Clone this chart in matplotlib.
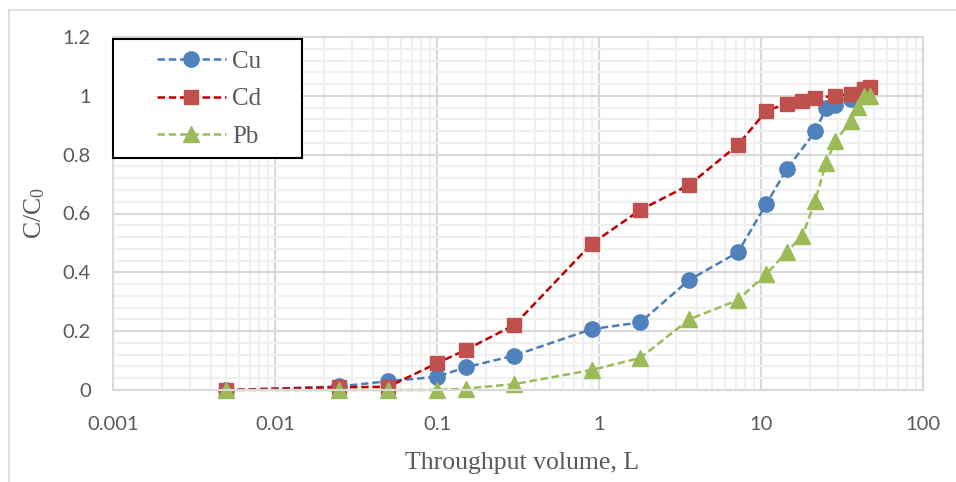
import matplotlib
matplotlib.use('Agg')
import matplotlib.pyplot as plt
from matplotlib.ticker import FixedLocator, FixedFormatter, MultipleLocator, LogLocator, NullFormatter
from matplotlib.patches import Rectangle

plt.rcParams['mathtext.fontset'] = 'custom'
plt.rcParams['mathtext.rm'] = 'Liberation Serif'
plt.rcParams['mathtext.it'] = 'Liberation Serif'

# throughput volume (L) and C/C0 for each metal
cu_x = [0.005, 0.025, 0.05, 0.1, 0.15, 0.3, 0.9, 1.8, 3.6, 7.2, 10.8, 14.4, 21.6, 25.2, 28.8, 36, 43.2]
cu_y = [0.0, 0.012, 0.03, 0.045, 0.077, 0.117, 0.207, 0.23, 0.374, 0.468, 0.633, 0.75, 0.879, 0.958, 0.97, 0.989, 1.0]

cd_x = [0.005, 0.025, 0.05, 0.1, 0.15, 0.3, 0.9, 1.8, 3.6, 7.2, 10.8, 14.4, 18, 21.6, 28.8, 36, 43.2, 46.8]
cd_y = [0.0, 0.009, 0.011, 0.091, 0.136, 0.221, 0.497, 0.612, 0.697, 0.833, 0.949, 0.973, 0.983, 0.993, 1.0, 1.007, 1.024, 1.031]

pb_x = [0.005, 0.025, 0.05, 0.1, 0.15, 0.3, 0.9, 1.8, 3.6, 7.2, 10.8, 14.4, 18, 21.6, 25.2, 28.8, 36, 39.6, 43.2, 46.8]
pb_y = [0.0, 0.0, 0.0, 0.0, 0.005, 0.02, 0.068, 0.109, 0.24, 0.306, 0.395, 0.469, 0.524, 0.643, 0.772, 0.847, 0.915, 0.963, 1.0, 1.0]

x_ticks = [0.001, 0.01, 0.1, 1, 10, 100]
x_labels = ['0.001', '0.01', '0.1', '1', '10', '100']
y_ticks = [0, 0.2, 0.4, 0.6, 0.8, 1.0, 1.2]
y_labels = ['0', '0.2', '0.4', '0.6', '0.8', '1', '1.2']

fig = plt.figure(figsize=(9.56, 4.82), dpi=100)
ax = fig.add_axes([113 / 956, 92 / 482, 810 / 956, 353 / 482])

# chart area border
fig.patches.append(Rectangle((9 / 956, -0.05), 1.0, 0.05 + 472 / 482, transform=fig.transFigure,
                             fill=False, edgecolor='#D9D9D9', linewidth=1.2))

ax.set_xscale('log')
ax.set_xlim(0.001, 100)
ax.set_ylim(0, 1.2)

style = dict(linestyle='--', dashes=(3, 1.5), linewidth=1.8, clip_on=False)
ax.plot(cu_x, cu_y, color='#4A7EBB', marker='o', markersize=11,
        markerfacecolor='#4F81BD', markeredgecolor='#4F81BD', label='Cu', **style)
ax.plot(cd_x, cd_y, color='#C00000', marker='s', markersize=10.5,
        markerfacecolor='#C0504D', markeredgecolor='#C0504D', label='Cd', **style)
ax.plot(pb_x, pb_y, color='#9BBB59', marker='^', markersize=12,
        markerfacecolor='#9BBB59', markeredgecolor='#9BBB59', label='Pb', **style)

ax.xaxis.set_major_locator(FixedLocator(x_ticks))
ax.xaxis.set_major_formatter(FixedFormatter(x_labels))
ax.xaxis.set_minor_locator(LogLocator(base=10, subs=range(2, 10), numticks=20))
ax.xaxis.set_minor_formatter(NullFormatter())
ax.yaxis.set_major_locator(FixedLocator(y_ticks))
ax.yaxis.set_major_formatter(FixedFormatter(y_labels))
ax.yaxis.set_minor_locator(MultipleLocator(0.04))

ax.grid(which='major', color='#D9D9D9', linewidth=1.5)
ax.grid(which='minor', color='#F0F0F0', linewidth=1.5)
ax.set_axisbelow(True)
ax.tick_params(which='both', length=0)
ax.tick_params(axis='x', pad=18.5)
ax.tick_params(axis='y', pad=16)
for lab in ax.get_xticklabels() + ax.get_yticklabels():
    lab.set_fontfamily('Lato')
    lab.set_fontsize(14.5)
    lab.set_color('#595959')
for sp in ax.spines.values():
    sp.set_color('#D9D9D9')
    sp.set_linewidth(1.5)

ax.set_xlabel('Throughput volume, L', family='Liberation Serif', fontsize=18.5, color='#595959')
ax.xaxis.set_label_coords(0.505, -0.175)
ax.set_ylabel('C/C$_0$', family='Liberation Serif', fontsize=18.5, color='#595959')
ax.yaxis.set_label_coords(-0.082, 0.5)

# legend box drawn by hand so the inner padding can match
ax.add_patch(Rectangle((0, 0.657), 0.2333, 0.337, transform=ax.transAxes, facecolor='white',
                       edgecolor='black', linewidth=1.5, zorder=4, clip_on=False))
leg = ax.legend(loc='center left', bbox_to_anchor=(0.054, 0.824), frameon=False,
                prop={'family': 'Liberation Serif', 'size': 18}, handlelength=2.76,
                borderpad=0, labelspacing=0.6, handletextpad=0.24, borderaxespad=0)
leg.set_zorder(5)
for t in leg.get_texts():
    t.set_color('#595959')

fig.savefig('out.png', dpi=100)
